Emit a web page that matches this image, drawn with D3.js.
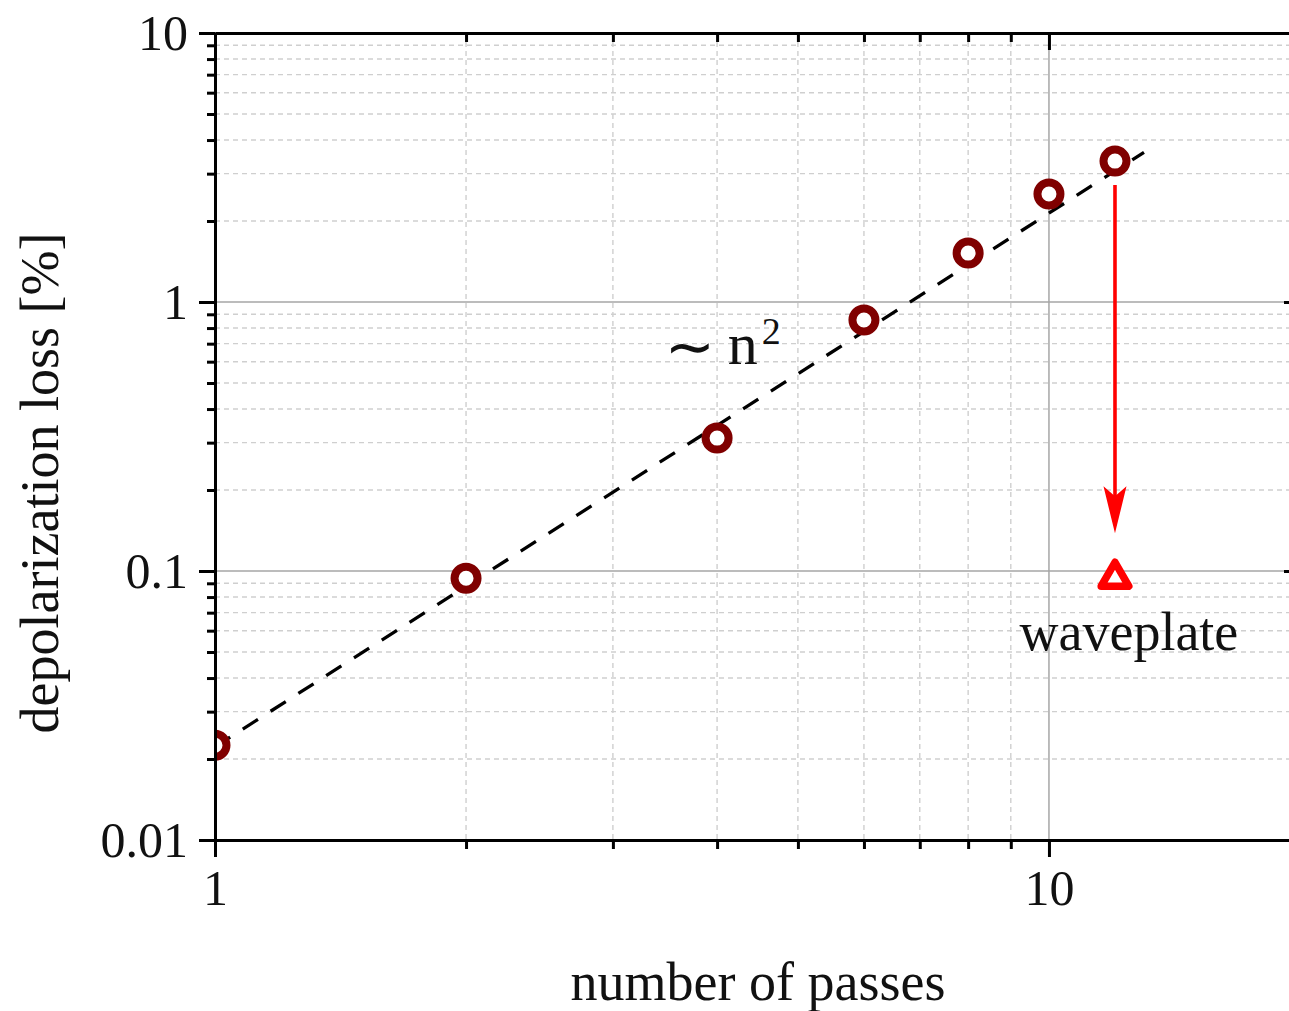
<!DOCTYPE html>
<html>
<head>
<meta charset="utf-8">
<script src="https://cdn.jsdelivr.net/npm/d3@7"></script>
<style>
  body { margin: 0; background: #fff; }
  text { font-family: "Liberation Serif", "DejaVu Serif", serif; fill: #111; }
</style>
</head>
<body>
<div id="chart"></div>
<script>
// measured depolarization loss vs number of passes
const passes = [1, 2, 4, 6, 8, 10, 12];
const loss = [0.0225, 0.094, 0.312, 0.857, 1.52, 2.52, 3.34];

// with waveplate
const wavePasses = [12];
const waveLoss = [0.094];

// ~ n^2 guide line, end points
const fitPasses = [1, 13];
const fitLoss = [0.0222, 3.6];

// arrow from the 12-pass point down to the waveplate point
const arrowX = 12;
const arrowFrom = 2.72;
const arrowTo = 0.138;

// ticks
const xMajor = [1, 10];
const xLabels = ["1", "10"];
const yMajor = [0.01, 0.1, 1, 10];
const yLabels = ["0.01", "0.1", "1", "10"];
const minorMult = [2, 3, 4, 5, 6, 7, 8, 9];
const xDecades = [1];
const yDecades = [0.01, 0.1, 1];

const width = 1289, height = 1011;
const mLeft = 215, mRight = 1300, mTop = 33, mBottom = 840;

const xMinor = xDecades.flatMap(d => minorMult.map(m => d * m));
const yMinor = yDecades.flatMap(d => minorMult.map(m => +(d * m).toPrecision(3)));

const x = d3.scaleLog().domain([1, 20]).range([mLeft, mRight]);
const y = d3.scaleLog().domain([0.01, 10]).range([mBottom, mTop]);

const svg = d3.select("#chart")
  .append("svg")
  .attr("width", width)
  .attr("height", height);

svg.append("defs").append("clipPath")
  .attr("id", "plot")
  .append("rect")
  .attr("x", mLeft).attr("y", mTop)
  .attr("width", mRight - mLeft).attr("height", mBottom - mTop);

// grid
const grid = svg.append("g");
grid.selectAll(".vmin")
  .data(xMinor)
  .join("line")
  .attr("x1", d => x(d)).attr("x2", d => x(d))
  .attr("y1", mTop).attr("y2", mBottom)
  .attr("stroke", "#cfcfcf").attr("stroke-width", 1.4)
  .attr("stroke-dasharray", "5,4");
grid.selectAll(".hmin")
  .data(yMinor)
  .join("line")
  .attr("x1", mLeft).attr("x2", mRight)
  .attr("y1", d => y(d)).attr("y2", d => y(d))
  .attr("stroke", "#cfcfcf").attr("stroke-width", 1.4)
  .attr("stroke-dasharray", "5,4");
grid.selectAll(".vmaj")
  .data(xMajor.slice(1))
  .join("line")
  .attr("x1", d => x(d)).attr("x2", d => x(d))
  .attr("y1", mTop).attr("y2", mBottom)
  .attr("stroke", "#a6a6a6").attr("stroke-width", 1.5);
grid.selectAll(".hmaj")
  .data(yMajor.slice(1, -1))
  .join("line")
  .attr("x1", mLeft).attr("x2", mRight)
  .attr("y1", d => y(d)).attr("y2", d => y(d))
  .attr("stroke", "#a6a6a6").attr("stroke-width", 1.5);

const plot = svg.append("g").attr("clip-path", "url(#plot)");

// fit line
const line = d3.line().x(d => x(d[0])).y(d => y(d[1]));
plot.append("path")
  .datum(d3.zip(fitPasses, fitLoss))
  .attr("d", line)
  .attr("fill", "none")
  .attr("stroke", "#000")
  .attr("stroke-width", 3.3)
  .attr("stroke-dasharray", "18,15");

// arrow
const ax = x(arrowX), ay1 = y(arrowFrom), ay2 = y(arrowTo);
plot.append("line")
  .attr("x1", ax).attr("x2", ax)
  .attr("y1", ay1).attr("y2", ay2 - 30)
  .attr("stroke", "#ff0000").attr("stroke-width", 3.6);
plot.append("path")
  .attr("d", `M${ax},${ay2} L${ax - 11.5},${ay2 - 47} L${ax},${ay2 - 37} L${ax + 11.5},${ay2 - 47} Z`)
  .attr("fill", "#ff0000");

// markers
plot.selectAll(".pt")
  .data(d3.zip(passes, loss))
  .join("circle")
  .attr("cx", d => x(d[0]))
  .attr("cy", d => y(d[1]))
  .attr("r", 11.5)
  .attr("fill", "#fff")
  .attr("stroke", "#800000")
  .attr("stroke-width", 8);

const tri = d3.symbol().type(d3.symbolTriangle).size(330);
plot.selectAll(".wp")
  .data(d3.zip(wavePasses, waveLoss))
  .join("path")
  .attr("transform", d => `translate(${x(d[0])},${y(d[1])})`)
  .attr("d", tri)
  .attr("fill", "#fff")
  .attr("stroke", "#ff0000")
  .attr("stroke-width", 7.5)
  .attr("stroke-linejoin", "round");

// axes
function styleAxis(g) {
  g.select(".domain").attr("stroke", "#000").attr("stroke-width", 3);
  g.selectAll(".tick line").attr("stroke", "#000").attr("stroke-width", 3);
  g.selectAll("text").attr("font-size", 50);
}

svg.append("g")
  .attr("transform", `translate(0,${mBottom})`)
  .call(d3.axisBottom(x).tickValues(xMinor).tickSize(9).tickFormat("").tickSizeOuter(0))
  .call(styleAxis);
svg.append("g")
  .attr("transform", `translate(0,${mBottom})`)
  .call(d3.axisBottom(x).tickValues(xMajor).tickSize(17).tickPadding(12)
    .tickFormat((d, i) => xLabels[i]).tickSizeOuter(0))
  .call(styleAxis);

svg.append("g")
  .attr("transform", `translate(${mLeft},0)`)
  .call(d3.axisLeft(y).tickValues(yMinor).tickSize(8).tickFormat("").tickSizeOuter(0))
  .call(styleAxis);
svg.append("g")
  .attr("transform", `translate(${mLeft},0)`)
  .call(d3.axisLeft(y).tickValues(yMajor).tickSize(16).tickPadding(11)
    .tickFormat((d, i) => yLabels[i]).tickSizeOuter(0))
  .call(styleAxis);

svg.append("g")
  .attr("transform", `translate(0,${mTop})`)
  .call(d3.axisTop(x).tickValues(xMinor).tickSize(-9).tickFormat("").tickSizeOuter(0))
  .call(styleAxis);
svg.append("g")
  .attr("transform", `translate(0,${mTop})`)
  .call(d3.axisTop(x).tickValues(xMajor).tickSize(-17).tickFormat("").tickSizeOuter(0))
  .call(styleAxis);

svg.append("g")
  .attr("transform", `translate(${mRight},0)`)
  .call(d3.axisRight(y).tickValues(yMinor).tickSize(-8).tickFormat("").tickSizeOuter(0))
  .call(styleAxis);
svg.append("g")
  .attr("transform", `translate(${mRight},0)`)
  .call(d3.axisRight(y).tickValues(yMajor).tickSize(-16).tickFormat("").tickSizeOuter(0))
  .call(styleAxis);

// annotations
const simX = x(3.48), simY = y(0.59);
svg.append("text")
  .attr("x", simX - 2)
  .attr("y", simY + 3)
  .style("font-family", "'DejaVu Sans', sans-serif")
  .attr("font-size", 60)
  .text("∼");
const sim = svg.append("text")
  .attr("x", simX + 61)
  .attr("y", simY)
  .attr("font-size", 60);
sim.append("tspan").text("n");
sim.append("tspan").attr("dx", 4).attr("dy", -20).attr("font-size", 38).text("2");

svg.append("text")
  .attr("x", x(12.47))
  .attr("y", y(0.0508))
  .attr("text-anchor", "middle")
  .attr("font-size", 54)
  .text("waveplate");

// axis titles
svg.append("text")
  .attr("x", 758)
  .attr("y", 1000)
  .attr("text-anchor", "middle")
  .attr("font-size", 54)
  .text("number of passes");

svg.append("text")
  .attr("transform", `translate(58,483) rotate(-90)`)
  .attr("text-anchor", "middle")
  .attr("font-size", 54)
  .text("depolarization loss [%]");
</script>
</body>
</html>
